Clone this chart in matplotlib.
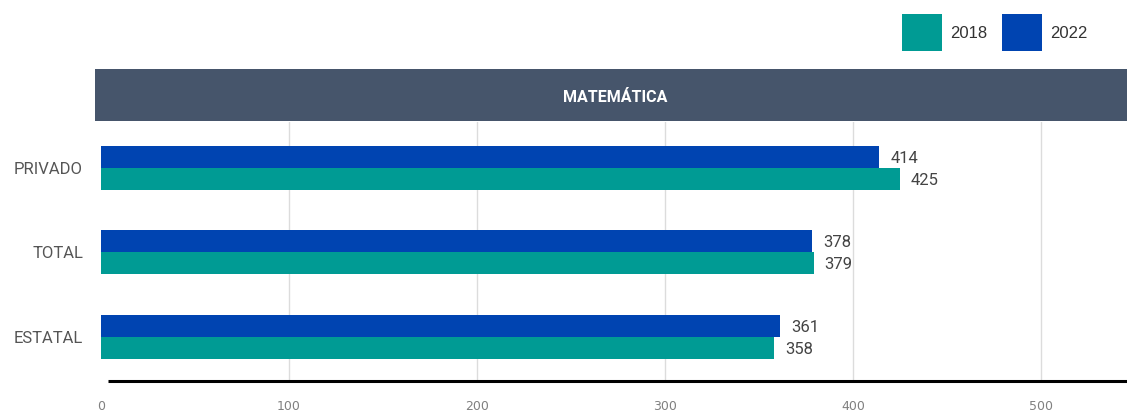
import matplotlib
matplotlib.use("Agg")
import matplotlib.pyplot as plt
from matplotlib.patches import Rectangle
import numpy as np

plt.rcParams['font.family'] = ['Roboto', 'DejaVu Sans']

categories = ["ESTATAL", "TOTAL", "PRIVADO"]
scores_2018 = [358, 379, 425]
scores_2022 = [361, 378, 414]
series_labels = ["2018", "2022"]
x_ticks = [0, 100, 200, 300, 400, 500]
title = "MATEMÁTICA"

c2018 = "#009B94"
c2022 = "#0044B1"
header_col = "#46556B"

W, H = 1127, 412
fig = plt.figure(figsize=(W / 100, H / 100), dpi=100)

# plot area in pixel coordinates (left, top, right, bottom)
L, T, R, B = 101, 122, 1127, 381
ax = fig.add_axes([L / W, 1 - B / H, (R - L) / W, (B - T) / H])

y = np.arange(len(categories))
bh = 0.26
ax.barh(y + bh / 2, scores_2022, height=bh, color=c2022, zorder=3)
ax.barh(y - bh / 2, scores_2018, height=bh, color=c2018, zorder=3)

ax.set_xlim(0, (R - L) / 1.88)
ax.set_ylim(-0.52, 2.54)

for xv in x_ticks[1:]:
    ax.axvline(xv, color="#dcdcdc", lw=1, zorder=1)

# value labels
for yi, v in zip(y, scores_2022):
    ax.annotate(str(v), (v, yi + bh / 2), xytext=(8, -1), textcoords="offset points",
                va="center", ha="left", fontsize=12, color="#444444")
for yi, v in zip(y, scores_2018):
    ax.annotate(str(v), (v, yi - bh / 2), xytext=(8, -1), textcoords="offset points",
                va="center", ha="left", fontsize=12, color="#444444")

ax.set_yticks(y)
ax.set_yticklabels(categories, fontsize=12, color="#555555")
ax.tick_params(axis="y", length=0, pad=13)

ax.set_xticks(x_ticks)
ax.set_xticklabels([str(t) for t in x_ticks], fontsize=9, color="#808080",
                   family=['Liberation Sans Narrow', 'DejaVu Sans'])
ax.tick_params(axis="x", length=0, pad=14)

for s in ax.spines.values():
    s.set_visible(False)

# baseline under the bars
ax.plot([7 / 1.88, ax.get_xlim()[1]], [-0.52, -0.52], color="black", lw=2.2,
        clip_on=False, zorder=4, solid_capstyle="butt")

# header band with title
fig.patches.append(Rectangle((95 / W, 1 - 121 / H), (W - 95) / W, 52 / H,
                             transform=fig.transFigure, facecolor=header_col,
                             edgecolor="none", zorder=0))
fig.text(615 / W, 1 - 97 / H, title, ha="center", va="center", color="white",
         fontsize=11.5, fontweight="bold")

# legend
fig.patches.append(Rectangle((902 / W, 1 - 51 / H), 40 / W, 37 / H,
                             transform=fig.transFigure, facecolor=c2018, edgecolor="none"))
fig.text(950 / W, 1 - 33 / H, series_labels[0], ha="left", va="center",
         fontsize=12, color="#333333", family=['Liberation Sans', 'DejaVu Sans'])
fig.patches.append(Rectangle((1002 / W, 1 - 51 / H), 40 / W, 37 / H,
                             transform=fig.transFigure, facecolor=c2022, edgecolor="none"))
fig.text(1050 / W, 1 - 33 / H, series_labels[1], ha="left", va="center",
         fontsize=12, color="#333333", family=['Liberation Sans', 'DejaVu Sans'])

fig.savefig("out.png", dpi=100, facecolor="white")
